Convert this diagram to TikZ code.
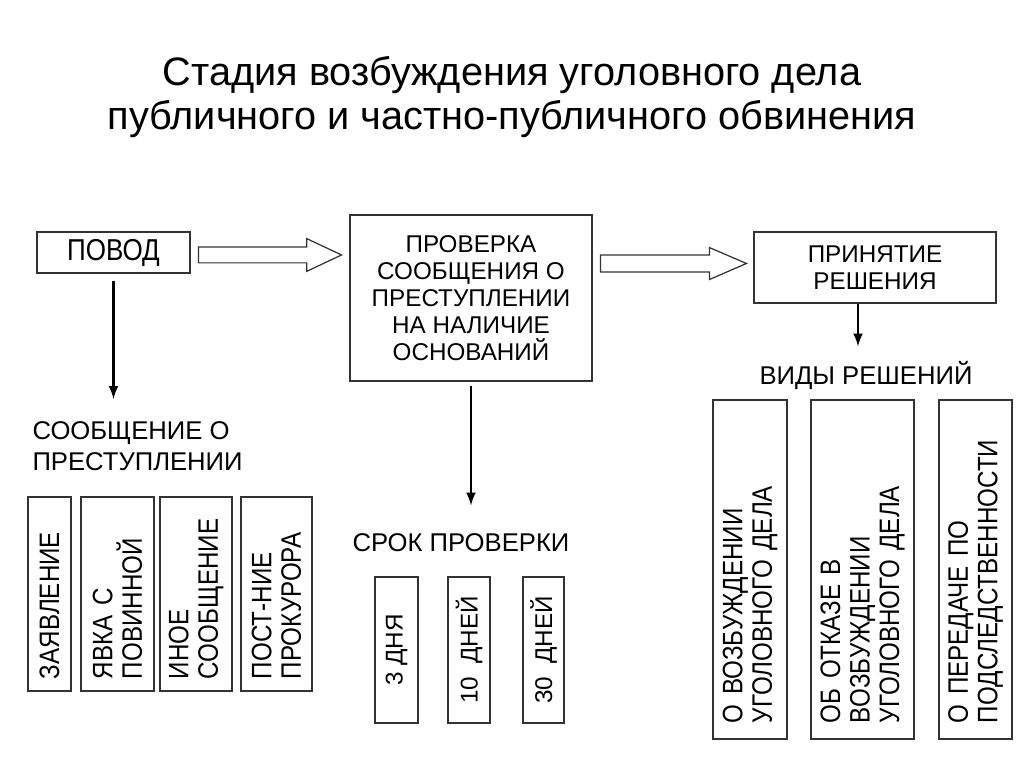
\documentclass[tikz,border=0pt]{standalone}
\usepackage{fontspec}
\setmainfont{Liberation Sans}
\newfontfamily\tallfont[FakeStretch=0.86]{Liberation Sans}
\usetikzlibrary{arrows,calc,positioning}
\newdimen\pxu \pxu=0.02cm

\begin{document}
\begin{tikzpicture}[x=0.02cm,y=-0.02cm,>=latex,semithick]
		\tikzstyle{every node}=[font=\fontsize{13.8}{15.3}\selectfont]
		\tikzstyle{box}=[draw=black!80,line width=0.6pt,align=center,inner sep=0pt]
		\tikzstyle{upbox}=[box,rotate=90,align=left,font=\tallfont\fontsize{16}{16.8}\selectfont]
		\tikzstyle{heading}=[inner sep=0pt,align=left,font=\fontsize{14.6}{17.6}\selectfont]
		\tikzstyle{thickarrow}=[->,line width=1.5pt]
		\tikzstyle{hollow}=[draw=black!80,line width=0.7pt]
		
		\useasboundingbox (0,0) rectangle (1024,768);
		
		\node (title) at (512,97) [align=center,font=\fontsize{22.6}{25.5}\selectfont]
			{Стадия возбуждения уголовного дела\\публичного и частно-публичного обвинения};
		
		\node[box,minimum width=153\pxu,minimum height=41\pxu,font=\tallfont\fontsize{17.2}{18}\selectfont] (povod) at (113.5,252.5) {ПОВОД};
		\node[box,minimum width=242\pxu,minimum height=166\pxu] (check) at (471,298)
			{ПРОВЕРКА\\СООБЩЕНИЯ О\\ПРЕСТУПЛЕНИИ\\НА НАЛИЧИЕ\\ОСНОВАНИЙ};
		\node[box,minimum width=242\pxu,minimum height=71\pxu] (decision) at (875,267.5) {ПРИНЯТИЕ\\РЕШЕНИЯ};
		
		\node[heading,anchor=west] (report) at (32,446) {СООБЩЕНИЕ О\\ПРЕСТУПЛЕНИИ};
		\node[heading] (term) at (461,543) {СРОК ПРОВЕРКИ};
		\node[heading] (kinds) at (866,375) {ВИДЫ РЕШЕНИЙ};
		
		% kinds of report
		\tikzstyle{srcbox}=[upbox,text width=170\pxu,inner xsep=12\pxu]
		\node[srcbox,minimum height=43\pxu] (statement) at (49.5,594) {ЗАЯВЛЕНИЕ};
		\node[srcbox,minimum height=73\pxu] (surrender) at (117.5,594) {ЯВКА С\\ПОВИННОЙ};
		\node[srcbox,minimum height=72\pxu] (other) at (196,594) {ИНОЕ\\СООБЩЕНИЕ};
		\node[srcbox,minimum height=71\pxu] (prosecutor) at (276.5,594) {ПОСТ-НИЕ\\ПРОКУРОРА};
		
		% terms
		\tikzstyle{daybox}=[box,rotate=90,minimum width=146\pxu]
		\node[daybox,minimum height=43\pxu] (d3) at (396.5,650) {3 ДНЯ};
		\node[daybox,minimum height=42\pxu] (d10) at (469,650) {10\ \ ДНЕЙ};
		\node[daybox,minimum height=41\pxu] (d30) at (543.5,650) {30\ \ ДНЕЙ};
		
		% kinds of decision
		\tikzstyle{resbox}=[upbox,text width=307\pxu,inner xsep=16\pxu]
		\node[resbox,minimum height=74\pxu] (open) at (750,569.5) {О ВОЗБУЖДЕНИИ\\УГОЛОВНОГО ДЕЛА};
		\node[resbox,minimum height=103\pxu] (refuse) at (862.5,569.5) {ОБ ОТКАЗЕ В\\ВОЗБУЖДЕНИИ\\УГОЛОВНОГО ДЕЛА};
		\node[resbox,minimum height=73\pxu] (transfer) at (975.5,569.5) {О ПЕРЕДАЧЕ ПО\\ПОДСЛЕДСТВЕННОСТИ};
		
		\draw[hollow] let \p1=(povod.east), \p2=(check.west) in
			(\x1+4.5pt,\y1+3.1pt) -- (\x2-24.3pt,\y1+3.1pt) -- (\x2-24.3pt,\y1+7.9pt)
			-- (\x2-4.5pt,\y1-1.4pt) -- (\x2-24.3pt,\y1-10.7pt) -- (\x2-24.3pt,\y1-5.9pt)
			-- (\x1+4.5pt,\y1-5.9pt) -- cycle;
		\draw[hollow] let \p1=(check.east), \p2=(decision.west) in
			(\x1+4.5pt,\y2+7.1pt) -- (\x2-25pt,\y2+7.1pt) -- (\x2-25pt,\y2+11.3pt)
			-- (\x2-4pt,\y2+2.3pt) -- (\x2-25pt,\y2-6.8pt) -- (\x2-25pt,\y2-2.5pt)
			-- (\x1+4.5pt,\y2-2.5pt) -- cycle;
		
		\path[thickarrow]
		(povod.south) edge[shorten <=7\pxu,shorten >=22\pxu] (povod.south |- report.north)
		(check.south) edge[shorten <=4\pxu,shorten >=28\pxu] (check.south |- term.north)
		([xshift=-17\pxu]decision.south) edge[shorten >=14\pxu] ([xshift=-17\pxu]decision.south |- kinds.north);
	\end{tikzpicture}
\end{document}
